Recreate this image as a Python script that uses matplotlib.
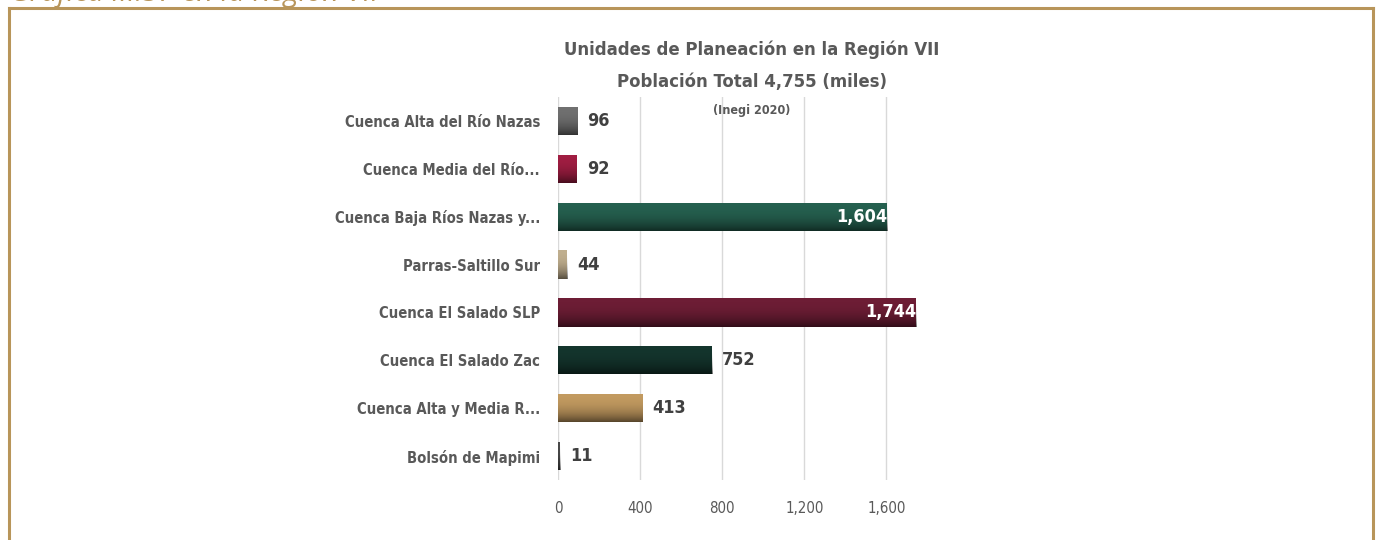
import matplotlib
matplotlib.use("Agg")
import matplotlib.pyplot as plt
from matplotlib.lines import Line2D
from matplotlib.ticker import StrMethodFormatter
import numpy as np

categorias = ["Cuenca Alta del Río Nazas", "Cuenca Media del Río...", "Cuenca Baja Ríos Nazas y...",
              "Parras-Saltillo Sur", "Cuenca El Salado SLP", "Cuenca El Salado Zac",
              "Cuenca Alta y Media R...", "Bolsón de Mapimi"]
poblacion = [96, 92, 1604, 44, 1744, 752, 413, 11]
colores = ["#707070", "#a01d42", "#25604f", "#bfae8e", "#6d1d35", "#14352d", "#c29a60", "#4a4a4a"]
xticks = [0, 400, 800, 1200, 1600]

FONT = ["DejaVu Sans"]
GRIS = "#595959"
DORADO = "#b8955a"

fig = plt.figure(figsize=(13.77, 5.40), dpi=100)
ax = fig.add_axes([558 / 1377, 1 - 480 / 540, 358 / 1377, 383 / 540])

y = np.arange(len(categorias))
barras = ax.barh(y, poblacion, height=0.59, color=colores, zorder=2)

# sombreado: la parte baja de cada barra un poco mas oscura
sombra = np.zeros((50, 1, 4))
sombra[:, 0, 3] = (1 - np.linspace(0, 1, 50)) ** 2.5 * 0.55
for b in barras:
    x0, y0 = b.get_x(), b.get_y()
    im = ax.imshow(sombra, aspect="auto", zorder=3, origin="lower",
                   extent=(x0, x0 + b.get_width(), y0 + b.get_height(), y0))
    im.set_clip_path(b)
ax.set_xlim(0, 1744)
ax.set_ylim(len(categorias) - 0.5, -0.5)

for i, v in enumerate(poblacion):
    txt = f"{v:,}"
    if v > 1000:
        ax.text(v, i, txt, ha="right", va="center", color="white", fontsize=13,
                fontweight="bold", family=FONT, stretch="condensed", zorder=4, clip_on=True)
    else:
        ax.text(v + 48, i, txt, ha="left", va="center", color="#404040", fontsize=13,
                fontweight="bold", family=FONT, stretch="condensed", zorder=4)

ax.set_yticks(y)
ax.set_yticklabels(categorias, family=FONT, fontsize=10.6, fontweight="bold", color=GRIS,
                   stretch="condensed")
ax.set_xticks(xticks)
ax.xaxis.set_major_formatter(StrMethodFormatter("{x:,.0f}"))
for lab in ax.get_xticklabels():
    lab.set_family(FONT)
    lab.set_stretch("condensed")
    lab.set_fontsize(10.8)
    lab.set_color(GRIS)
ax.tick_params(axis="y", length=0, pad=13)
ax.tick_params(axis="x", length=0, pad=15)
ax.grid(axis="x", color="#d9d9d9", linewidth=1, zorder=0)
for s in ax.spines.values():
    s.set_visible(False)

fig.text(752 / 1377, 1 - 50 / 540, "Unidades de Planeación en la Región VII", ha="center", va="center",
         fontsize=13.2, fontweight="bold", color=GRIS, family=FONT, stretch="condensed")
fig.text(752 / 1377, 1 - 82 / 540, "Población Total 4,755 (miles)", ha="center", va="center",
         fontsize=13.2, fontweight="bold", color=GRIS, family=FONT, stretch="condensed")
fig.text(752 / 1377, 1 - 111 / 540, "(Inegi 2020)", ha="center", va="center",
         fontsize=9, fontweight="bold", color=GRIS, family=FONT, stretch="condensed")

# leyenda de la grafica, cortada en el borde superior, y recuadro dorado
fig.text(10 / 1377, 1 - 1 / 540, "Gráfica III.37 en la Región VII", ha="left", va="baseline",
         fontsize=21, style="italic", color=DORADO, family=["Open Sans", "DejaVu Sans"])
fig.add_artist(Line2D([9 / 1377, 9 / 1377], [0, 1 - 8 / 540], color=DORADO, linewidth=2.2))
fig.add_artist(Line2D([9 / 1377, 1373 / 1377], [1 - 8 / 540, 1 - 8 / 540], color=DORADO, linewidth=2.2))
fig.add_artist(Line2D([1373 / 1377, 1373 / 1377], [0, 1 - 8 / 540], color=DORADO, linewidth=2.2))

fig.savefig("out.png", dpi=100)
